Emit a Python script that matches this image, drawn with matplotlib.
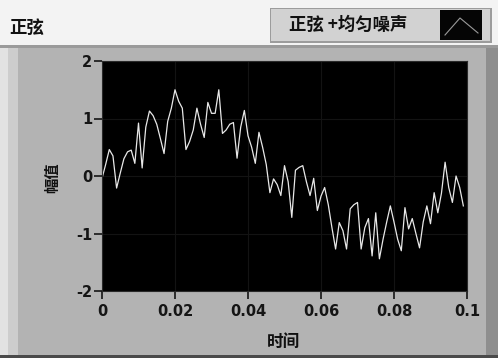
import matplotlib
matplotlib.use("Agg")
import matplotlib.pyplot as plt
from matplotlib.patches import Rectangle
from matplotlib.lines import Line2D

plt.rcParams['font.family'] = ['Noto Sans CJK SC', 'DejaVu Sans']

# Sampled waveform: sine plus uniform noise, dt = 0.001 s
dt = 0.001
amplitude = [
    -0.04, 0.20, 0.46, 0.35, -0.21, 0.05, 0.30, 0.42, 0.45, 0.22,
    0.92, 0.14, 0.85, 1.13, 1.05, 0.90, 0.65, 0.39, 0.95, 1.18,
    1.50, 1.30, 1.18, 0.46, 0.60, 0.80, 1.18, 0.90, 0.67, 1.28,
    1.09, 1.09, 1.50, 0.74, 0.80, 0.90, 0.93, 0.31, 0.85, 1.14,
    0.70, 0.50, 0.22, 0.76, 0.50, 0.20, -0.29, -0.05, -0.15, -0.34,
    0.18, -0.10, -0.72, 0.10, 0.15, 0.18, -0.10, -0.34, -0.04, -0.60,
    -0.35, -0.20, -0.50, -0.90, -1.27, -0.81, -0.95, -1.27, -0.57, -0.50,
    -0.46, -1.27, -0.90, -0.74, -1.39, -0.64, -1.44, -1.10, -0.80, -0.52,
    -0.80, -1.10, -1.30, -0.55, -0.92, -0.74, -1.00, -1.25, -0.80, -0.52,
    -0.83, -0.29, -0.64, -0.30, 0.24, -0.20, -0.46, 0.00, -0.20, -0.52,
]
time = [i * dt for i in range(len(amplitude))]

x_ticks = [0, 0.02, 0.04, 0.06, 0.08, 0.1]
x_tick_labels = ['0', '0.02', '0.04', '0.06', '0.08', '0.1']
y_ticks = [-2, -1, 0, 1, 2]
y_tick_labels = ['-2', '-1', '0', '1', '2']

W, H = 498, 358
fig = plt.figure(figsize=(W / 100, H / 100), dpi=100)
fig.patch.set_facecolor('#f3f3f3')


def px_rect(x0, y0, x1, y1, color, z=-5):
    """Rectangle given in pixel coordinates measured from the top-left."""
    fig.patches.append(Rectangle((x0 / W, 1 - y1 / H), (x1 - x0) / W, (y1 - y0) / H,
                                 transform=fig.transFigure, facecolor=color,
                                 edgecolor='none', zorder=z))


# Graph panel
px_rect(0, 45, W, 356, '#b3b3b3')
px_rect(0, 45, 8, 356, '#e2e2e2')
px_rect(8, 45, 18, 356, '#cdcdcd')
px_rect(486, 45, W, 356, '#8e8e8e')
px_rect(0, 45, W, 48, '#9a9a9a')
px_rect(0, 355, W, H, '#4a4a4a')

# Plot legend box
px_rect(270, 8, 492, 43, '#9c9c9c')
px_rect(271, 9, 490, 41, '#d2d2d2')
px_rect(440, 10, 482, 40, '#050505', z=-4)
fig.lines.append(Line2D([445 / W, 460 / W, 478 / W],
                        [1 - 35 / H, 1 - 18 / H, 1 - 33 / H],
                        transform=fig.transFigure, color='#9a9a9a', lw=0.8))
fig.text(289 / W, 1 - 25 / H, '正弦 +均匀噪声', fontsize=12.5, fontweight='bold',
         ha='left', va='center', color='#111111')

# Graph caption
fig.text(9 / W, 1 - 28 / H, '正弦', fontsize=12.5, fontweight='bold',
         ha='left', va='center', color='#111111')

ax = fig.add_axes([102 / W, 1 - 291 / H, (467 - 102) / W, (291 - 61) / H])
ax.set_zorder(3)
ax.set_facecolor('#000000')
ax.plot(time, amplitude, color='#e8e8e8', lw=0.9)
ax.set_xlim(0, 0.1)
ax.set_ylim(-2, 2)
ax.set_xticks(x_ticks)
ax.set_xticklabels(x_tick_labels)
ax.set_yticks(y_ticks)
ax.set_yticklabels(y_tick_labels)
ax.grid(True, color='#131313', lw=0.8)
for s in ax.spines.values():
    s.set_color('#2a2a2a')
ax.tick_params(axis='both', colors='#151515', length=6, width=1.2,
               labelsize=10.5, direction='out')
ax.tick_params(axis='x', pad=3)
ax.tick_params(axis='y', pad=1)
for lab in ax.get_xticklabels() + ax.get_yticklabels():
    lab.set_fontweight('bold')
    lab.set_family('DejaVu Sans')

fig.text(284 / W, 1 - 342 / H, '时间', fontsize=12, fontweight='bold',
         ha='center', va='center', color='#111111')
fig.text(52 / W, 1 - 178 / H, '幅值', fontsize=11, fontweight='bold',
         ha='center', va='center', rotation=90, color='#111111')

fig.savefig('out.png', dpi=100, facecolor=fig.get_facecolor())
